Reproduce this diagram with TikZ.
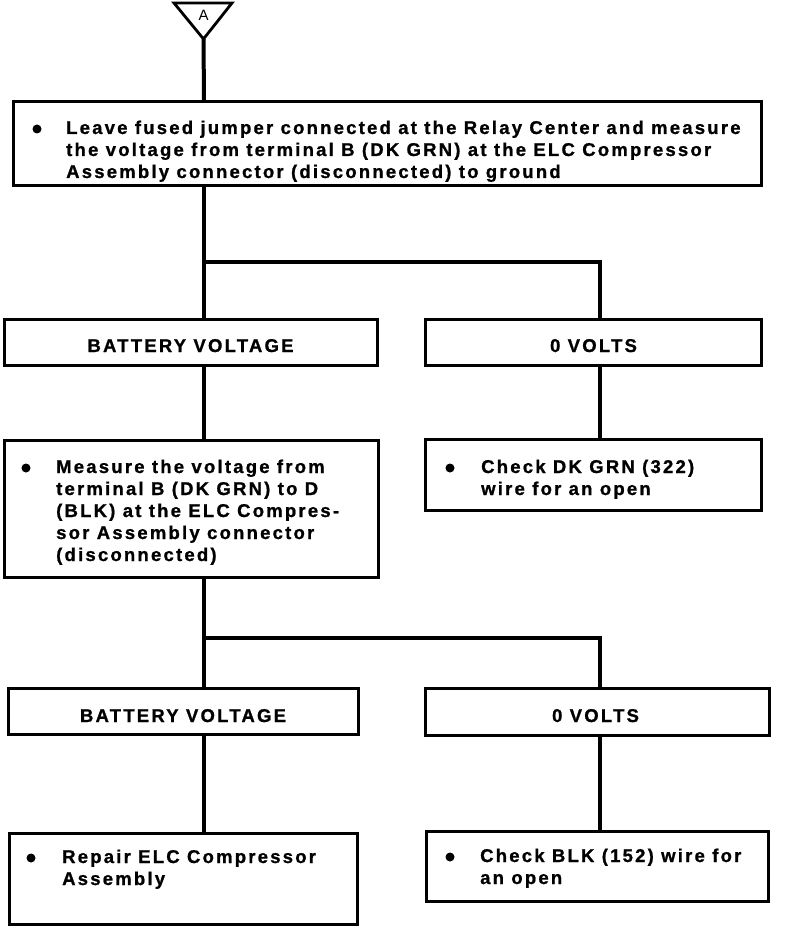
\documentclass[tikz,border=0pt]{standalone}
\usepackage{fontspec}
\newfontfamily\flowfont{Liberation Sans Bold}[LetterSpace=12,FakeBold=1]
\newfontfamily\entryfont{Liberation Sans}
\begin{document}
\begin{tikzpicture}[x=1pt,y=-1pt,
  box/.style={draw,line width=2.6pt,inner sep=0pt},
  conn/.style={line width=4pt},
  txt/.style={inner sep=0pt,anchor=base west,align=left,font=\flowfont\fontsize{18.5}{22}\selectfont},
  lbl/.style={inner sep=0pt,anchor=base,font=\flowfont\fontsize{18.5}{22}\selectfont},
  bulletdot/.style={circle,fill,inner sep=0pt,minimum size=9pt}]
\useasboundingbox (0,0) rectangle (800,928);
% reference columns
\coordinate (colL) at (204,0);
\coordinate (colR) at (600,0);
% entry triangle
\node[inner sep=0pt,anchor=base,font=\entryfont\fontsize{15}{15}\selectfont] (entryA) at (203.5,21) {A};
\coordinate (triL) at (174,3);
\coordinate (triR) at (232,3);
\coordinate (triT) at (203.5,39);
\draw[line width=2.8pt,line join=miter] (triL) -- (triR) -- (triT) -- cycle;
% boxes
\node[box,minimum width=748pt,minimum height=84pt] (b1) at (387.5,143.5) {};
\node[box,minimum width=373pt,minimum height=46pt] (b2) at (191,342.5) {};
\node[box,minimum width=336pt,minimum height=46pt] (b3) at (593.5,342.5) {};
\node[box,minimum width=374pt,minimum height=137pt] (b4) at (191.5,509) {};
\node[box,minimum width=336pt,minimum height=71pt] (b5) at (593.5,475) {};
\node[box,minimum width=350pt,minimum height=46pt] (b6) at (183.5,711.5) {};
\node[box,minimum width=344pt,minimum height=47pt] (b7) at (597.5,712) {};
\node[box,minimum width=348pt,minimum height=91pt] (b8) at (183.5,879) {};
\node[box,minimum width=342pt,minimum height=70pt] (b9) at (597.5,866.5) {};
% texts (anchor is the baseline of the last line)
\node[bulletdot] (d1) at (37,129) {};
\node[txt] (t1) at (66,178) {Leave fused jumper connected at the Relay Center and measure\\the voltage from terminal B (DK GRN) at the ELC Compressor\\Assembly connector (disconnected) to ground};
\node[lbl] (t2) at (190.5,352) {BATTERY VOLTAGE};
\node[lbl] (t3) at (593.5,352) {0 VOLTS};
\node[bulletdot] (d4) at (26,468) {};
\node[txt] (t4) at (56,561) {Measure the voltage from\\terminal B (DK GRN) to D\\(BLK) at the ELC Compres-\\sor Assembly connector\\(disconnected)};
\node[bulletdot] (d5) at (450,468) {};
\node[txt] (t5) at (481,495) {Check DK GRN (322)\\wire for an open};
\node[lbl] (t6) at (183,722) {BATTERY VOLTAGE};
\node[lbl] (t7) at (595.5,722) {0 VOLTS};
\node[bulletdot] (d8) at (31,858) {};
\node[txt] (t8) at (62,885) {Repair ELC Compressor\\Assembly};
\node[bulletdot] (d9) at (450,857) {};
\node[txt] (t9) at (480,884) {Check BLK (152) wire for\\an open};
% connectors
\coordinate (j1) at (204,262);
\coordinate (j2) at (204,638);
\draw[conn] (triT) -- (b1.north -| colL);
\draw[conn] (b1.south -| colL) -- (b2.north -| colL);
\draw[conn] (j1) -| (b3.north -| colR);
\draw[conn] (b2.south -| colL) -- (b4.north -| colL);
\draw[conn] (b3.south -| colR) -- (b5.north -| colR);
\draw[conn] (b4.south -| colL) -- (b6.north -| colL);
\draw[conn] (j2) -| (b7.north -| colR);
\draw[conn] (b6.south -| colL) -- (b8.north -| colL);
\draw[conn] (b7.south -| colR) -- (b9.north -| colR);
\end{tikzpicture}
\end{document}
